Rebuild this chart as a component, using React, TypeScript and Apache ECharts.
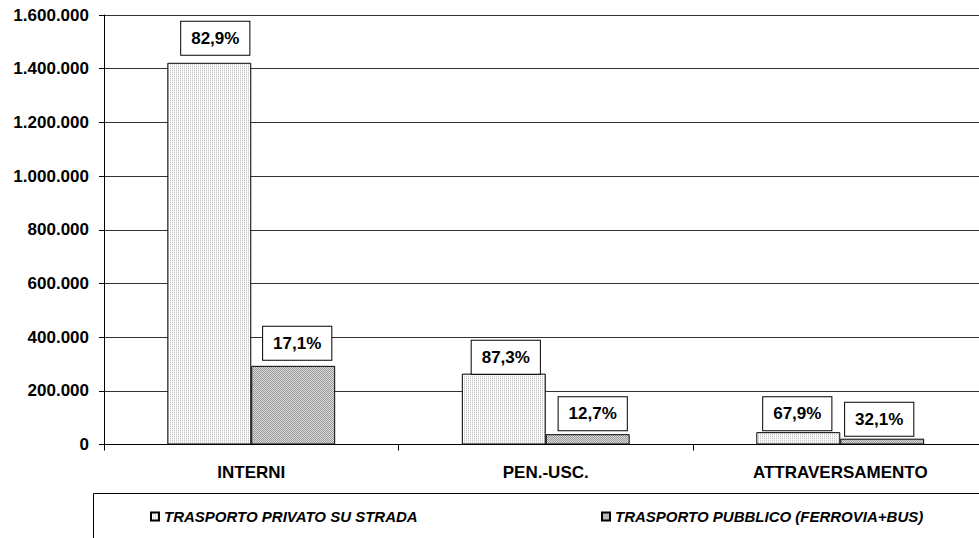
import React, { useEffect, useRef } from "react";
import * as echarts from "echarts";

// Spostamenti giornalieri per tipo di relazione e modo di trasporto
const categories = ["INTERNI", "PEN.-USC.", "ATTRAVERSAMENTO"];
const seriesNames = ["TRASPORTO PRIVATO SU STRADA", "TRASPORTO PUBBLICO (FERROVIA+BUS)"];
const privato = [1422000, 264000, 46000];
const pubblico = [293000, 38400, 21700];
const privatoShare = ["82,9%", "87,3%", "67,9%"];
const pubblicoShare = ["17,1%", "12,7%", "32,1%"];
const yTicks = [0, 200000, 400000, 600000, 800000, 1000000, 1200000, 1400000, 1600000];

// where each percentage box sits relative to the top of its bar
const privatoLabelShift = [[6, -8], [2, 0], [-1, -2]];
const pubblicoLabelShift = [[4, -6], [5, -4], [-3, -3]];

const FONT = 'Arial, "Liberation Sans", Helvetica, sans-serif';

function makePattern(draw: (ctx: CanvasRenderingContext2D) => void, w: number, h: number) {
  const c = document.createElement("canvas");
  c.width = w;
  c.height = h;
  const ctx = c.getContext("2d")!;
  draw(ctx);
  return c;
}

function fmtThousands(v: number) {
  return String(Math.round(v)).replace(/\B(?=(\d{3})+(?!\d))/g, ".");
}

export default function App() {
  const ref = useRef<HTMLDivElement>(null);

  useEffect(() => {
    if (!ref.current) return;
    const chart = echarts.init(ref.current, null, { renderer: "svg" });

    // light dotted fill for private transport
    const dotted = makePattern((ctx) => {
      ctx.fillStyle = "#ffffff";
      ctx.fillRect(0, 0, 2, 2);
      ctx.fillStyle = "#c4c4c4";
      ctx.fillRect(0, 0, 1, 1);
      ctx.fillStyle = "#ececec";
      ctx.fillRect(0, 1, 1, 1);
    }, 2, 2);
    // darker checkered fill for public transport
    const checkered = makePattern((ctx) => {
      ctx.fillStyle = "#dadada";
      ctx.fillRect(0, 0, 2, 2);
      ctx.fillStyle = "#9a9a9a";
      ctx.fillRect(0, 0, 1, 1);
      ctx.fillRect(1, 1, 1, 1);
    }, 2, 2);

    const dottedFill: any = { image: dotted, repeat: "repeat", imageWidth: 2, imageHeight: 2 };
    const checkFill: any = { image: checkered, repeat: "repeat", imageWidth: 2, imageHeight: 2 };

    const boxLabel = {
      show: true,
      position: "top",
      distance: 0,
      fontFamily: FONT,
      fontSize: 17,
      fontWeight: "bold",
      color: "#000",
      lineHeight: 17,
      backgroundColor: "#fff",
      borderColor: "#000",
      borderWidth: 1,
      padding: [8, 10, 8, 10],
    };

    const build = (vals: number[], shares: string[], shifts: number[][]) =>
      vals.map((v, i) => ({
        value: v,
        label: { ...boxLabel, offset: shifts[i], formatter: () => shares[i] },
      }));

    const legendText = {
      fontFamily: FONT,
      fontSize: 15,
      fontWeight: "bold",
      fontStyle: "italic",
      color: "#000",
    };

    chart.setOption({
      animation: false,
      backgroundColor: "#fff",
      grid: { left: 104, right: 12.5, top: 15, bottom: 93.5, containLabel: false },
      legend: [
        {
          data: [seriesNames[0]],
          left: 150,
          top: 509,
          itemWidth: 8,
          itemHeight: 8,
          itemGap: 0,
          icon: "rect",
          textStyle: legendText,
          padding: 0,
        },
        {
          data: [seriesNames[1]],
          left: 601,
          top: 509,
          itemWidth: 8,
          itemHeight: 8,
          icon: "rect",
          textStyle: legendText,
          padding: 0,
        },
      ],
      graphic: [
        {
          type: "rect",
          left: 91,
          top: 491,
          shape: { width: 1000, height: 100 },
          style: { fill: "none", stroke: "#000", lineWidth: 1 },
          silent: true,
        },
      ],
      xAxis: {
        type: "category",
        data: categories,
        axisLine: { lineStyle: { color: "#000", width: 1 } },
        axisTick: { show: true, length: 6, lineStyle: { color: "#000" } },
        axisLabel: {
          margin: 19,
          fontFamily: FONT,
          fontSize: 17,
          fontWeight: "bold",
          color: "#000",
        },
      },
      yAxis: {
        type: "value",
        min: yTicks[0],
        max: yTicks[yTicks.length - 1],
        interval: yTicks[1] - yTicks[0],
        axisLine: { show: true, lineStyle: { color: "#000", width: 1 } },
        axisTick: { show: true, length: 5, lineStyle: { color: "#000" } },
        splitLine: { show: true, lineStyle: { color: "#333", width: 1 } },
        axisLabel: {
          margin: 15,
          fontFamily: FONT,
          fontSize: 17,
          fontWeight: "bold",
          color: "#000",
          formatter: (v: number) => fmtThousands(v),
        },
      },
      series: [
        {
          name: seriesNames[0],
          type: "bar",
          barGap: "0%",
          barCategoryGap: "43%",
          itemStyle: { color: dottedFill, borderColor: "#000", borderWidth: 1 },
          data: build(privato, privatoShare, privatoLabelShift),
        },
        {
          name: seriesNames[1],
          type: "bar",
          barGap: "0%",
          barCategoryGap: "43%",
          itemStyle: { color: checkFill, borderColor: "#000", borderWidth: 1 },
          data: build(pubblico, pubblicoShare, pubblicoLabelShift),
        },
      ],
    });

    return () => chart.dispose();
  }, []);

  return (
    <div
      style={{
        position: "fixed",
        left: 0,
        top: 0,
        width: 979,
        height: 538,
        overflow: "hidden",
        background: "#fff",
      }}
    >
      <div ref={ref} style={{ width: 1000, height: 538 }} />
    </div>
  );
}
